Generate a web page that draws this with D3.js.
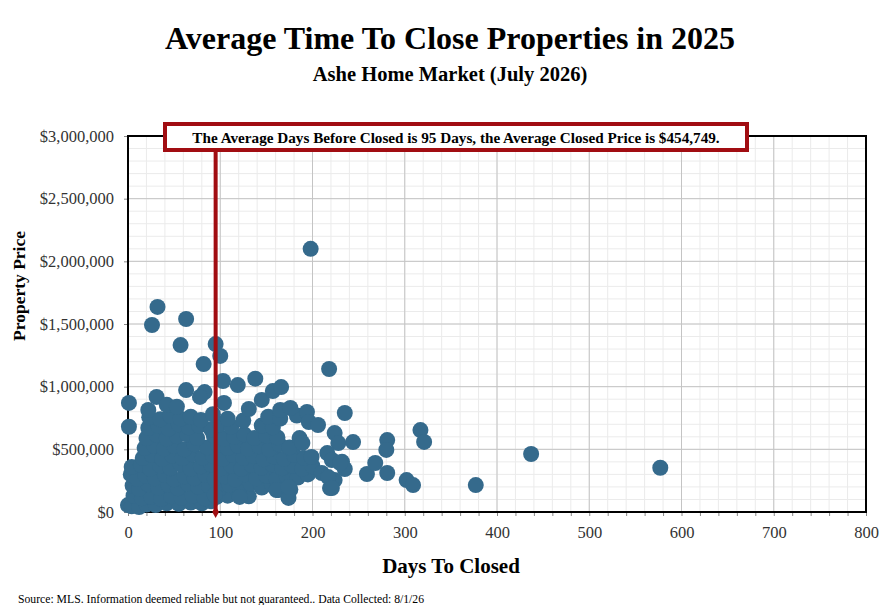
<!DOCTYPE html>
<html>
<head>
<meta charset="utf-8">
<script src="https://cdn.jsdelivr.net/npm/d3@7"></script>
<style>
	body { margin: 0; background: #fff; }
	text { font-family: "Liberation Serif", "DejaVu Serif", serif; }
</style>
</head>
<body>
<div id="chart"></div>
<script>
// chart texts
var title     = "Average Time To Close Properties in 2025";
var subtitle  = "Ashe Home Market (July 2026)";
var noteText  = "The Average Days Before Closed is 95 Days, the Average Closed Price is $454,749.";
var xTitle    = "Days To Closed";
var yTitle    = "Property Price";
var source    = "Source: MLS. Information deemed reliable but not guaranteed.. Data Collected: 8/1/26";

// axis ticks
var xTicks = [0, 100, 200, 300, 400, 500, 600, 700, 800];
var yTicks = [0, 500000, 1000000, 1500000, 2000000, 2500000, 3000000];

// averages
var avgDays  = 95;
var avgPrice = 454749;

// closed sales: [days to close, price in $ thousands]
var sales = [
	[0,55],[4,45],[12,40],[20,60],[30,55],[42,70],[55,65],[68,75],[80,70],[90,85],
	[6,130],[15,110],[25,120],[36,105],[47,125],[58,115],[70,130],[83,110],[96,120],[108,130],[120,140],[131,125],
	[5,210],[12,185],[22,220],[33,195],[44,215],[54,190],[65,225],[76,200],[88,210],[99,185],[110,215],[121,200],[133,225],[145,195],[156,215],[163,175],[176,180],
	[3,300],[10,265],[19,290],[29,270],[40,295],[50,260],[61,285],[72,270],[84,295],[94,265],[105,285],[116,260],[127,300],[139,270],[150,290],[161,265],[172,285],[184,275],[195,300],
	[4,360],[14,375],[24,345],[35,370],[46,350],[57,380],[68,345],[79,365],[90,380],[101,350],[112,370],[123,345],[134,375],[145,355],[156,380],[167,350],[178,370],[189,345],[200,365],
	[16,430],[26,455],[37,425],[48,450],[59,430],[70,460],[81,435],[92,450],[103,425],[114,455],[125,430],[136,450],[147,420],[158,445],[169,425],[180,455],[191,430],
	[18,510],[28,530],[39,505],[50,525],[61,500],[72,540],[86,515],[98,535],[108,510],[119,530],[130,505],[142,525],[153,500],[164,540],[175,515],
	[20,590],[31,615],[42,585],[53,605],[64,620],[75,590],[93,610],[104,585],[115,600],[126,620],[137,590],[150,610],[162,595],
	[22,670],[33,690],[44,665],[55,700],[66,675],[77,690],[90,660],[100,700],[112,680],[145,690],[157,675],
	[23,755],[35,740],[46,770],[57,745],[68,760],[79,735],[92,780],[108,745],[125,730],[152,760],[165,745],[183,770],
	[1,870],[1,680],[31,918],[22,814],[26,1492],[32,1636],[63,1540],[57,1332],[95,1340],[100,1245],
	[82,1180],[83,957],[63,973],[42,855],[53,840],[78,918],[104,870],[103,1045],[119,1013],[138,1064],
	[131,822],[145,894],[157,965],[166,997],[165,814],[176,830],[194,798],[196,718],[206,694],[218,1141],
	[198,2100],[235,790],[224,630],[228,550],[244,558],[232,400],[235,343],[224,255],[219,191],[259,303],
	[268,391],[281,574],[280,495],[281,311],[302,255],[309,215],[317,654],[321,559],[377,215],[437,463],
	[577,353],[186,590],[189,551],[199,439],[216,470],[221,415],[230,391],[210,311],[217,279],[221,191],
	[161,175],[174,112],[174,200],[121,120],[94,136]
];

var width  = 887;
var height = 605;
var plot   = { left: 128, right: 866, top: 136, bottom: 512 };
var dotColor = "#356a8c";
var noteRed  = "#a10d12";

var x = d3.scaleLinear().domain([0, 800]).range([plot.left, plot.right]);
var y = d3.scaleLinear().domain([0, 3000000]).range([plot.bottom, plot.top]);

var svg = d3.select("#chart").append("svg")
			.attr("width", width)
			.attr("height", height);

DrawGrid();
DrawAxes();
DrawDots();
DrawAverage();
DrawTexts();

function DrawGrid() {
	var g = svg.append("g");
	// minor lines: 20 days / $100k
	g.selectAll(".vminor").data(d3.range(0, 801, 20)).join("line")
		.attr("x1", d => x(d)).attr("x2", d => x(d))
		.attr("y1", plot.top).attr("y2", plot.bottom)
		.attr("stroke", "#ebebeb").attr("stroke-width", 1);
	g.selectAll(".hminor").data(d3.range(0, 3000001, 100000)).join("line")
		.attr("x1", plot.left).attr("x2", plot.right)
		.attr("y1", d => y(d)).attr("y2", d => y(d))
		.attr("stroke", "#ebebeb").attr("stroke-width", 1);
	// major lines
	g.selectAll(".vmajor").data(xTicks).join("line")
		.attr("x1", d => x(d)).attr("x2", d => x(d))
		.attr("y1", plot.top).attr("y2", plot.bottom)
		.attr("stroke", "#c4c4c4").attr("stroke-width", 1);
	g.selectAll(".hmajor").data(yTicks).join("line")
		.attr("x1", plot.left).attr("x2", plot.right)
		.attr("y1", d => y(d)).attr("y2", d => y(d))
		.attr("stroke", "#c4c4c4").attr("stroke-width", 1);
}

function DrawAxes() {
	var xAxis = d3.axisBottom(x).tickValues(d3.range(0, 801, 20)).tickSize(4).tickFormat("");
	svg.append("g").attr("transform", "translate(0," + plot.bottom + ")").call(xAxis)
		.call(g => g.select(".domain").remove())
		.call(g => g.selectAll("line").attr("stroke", "#888"));

	var xLabels = d3.axisBottom(x).tickValues(xTicks).tickSize(0).tickPadding(14);
	svg.append("g").attr("transform", "translate(0," + plot.bottom + ")").call(xLabels)
		.call(g => g.select(".domain").remove())
		.call(g => g.selectAll("text").attr("font-size", 16.5).attr("fill", "#333")
			.style("font-family", "'Liberation Serif', serif"));

	var yAxis = d3.axisLeft(y).tickValues(yTicks).tickSize(4).tickPadding(10)
					.tickFormat(d => d === 0 ? "$0" : d3.format("$,")(d));
	svg.append("g").attr("transform", "translate(" + plot.left + ",0)").call(yAxis)
		.call(g => g.select(".domain").remove())
		.call(g => g.selectAll("line").attr("stroke", "#888"))
		.call(g => g.selectAll("text").attr("font-size", 16.5).attr("fill", "#333")
			.style("font-family", "'Liberation Serif', serif"));

	// black frame around plot
	svg.append("rect")
		.attr("x", plot.left).attr("y", plot.top)
		.attr("width", plot.right - plot.left).attr("height", plot.bottom - plot.top)
		.attr("fill", "none").attr("stroke", "#000").attr("stroke-width", 2);
}

function DrawDots() {
	svg.append("g").selectAll("circle").data(sales).join("circle")
		.attr("cx", d => x(d[0]))
		.attr("cy", d => y(d[1] * 1000))
		.attr("r", 8)
		.attr("fill", dotColor);
}

function DrawAverage() {
	var ax = x(avgDays);
	svg.append("line")
		.attr("x1", ax).attr("x2", ax)
		.attr("y1", 150).attr("y2", plot.bottom)
		.attr("stroke", noteRed).attr("stroke-width", 4);
	svg.append("path")
		.attr("d", d3.symbol().type(d3.symbolDiamond).size(40))
		.attr("transform", "translate(" + ax + "," + plot.bottom + ")")
		.attr("fill", noteRed);

	svg.append("rect")
		.attr("x", 165).attr("y", 124)
		.attr("width", 582).attr("height", 26)
		.attr("fill", "#fff").attr("stroke", noteRed).attr("stroke-width", 4);
	svg.append("text")
		.attr("x", 456).attr("y", 142.5)
		.attr("text-anchor", "middle")
		.attr("font-size", 15.2).attr("font-weight", "bold")
		.text(noteText);
}

function DrawTexts() {
	svg.append("text")
		.attr("x", 450).attr("y", 49)
		.attr("text-anchor", "middle")
		.attr("font-size", 32).attr("font-weight", "bold")
		.text(title);
	svg.append("text")
		.attr("x", 450).attr("y", 81)
		.attr("text-anchor", "middle")
		.attr("font-size", 20.5).attr("font-weight", "bold")
		.text(subtitle);
	svg.append("text")
		.attr("x", 451).attr("y", 573)
		.attr("text-anchor", "middle")
		.attr("font-size", 21).attr("font-weight", "bold")
		.text(xTitle);
	svg.append("text")
		.attr("transform", "translate(25,286) rotate(-90)")
		.attr("text-anchor", "middle")
		.attr("font-size", 17.5).attr("font-weight", "bold")
		.text(yTitle);
	svg.append("text")
		.attr("x", 18).attr("y", 603)
		.attr("font-size", 11.7)
		.text(source);
}
</script>
</body>
</html>
